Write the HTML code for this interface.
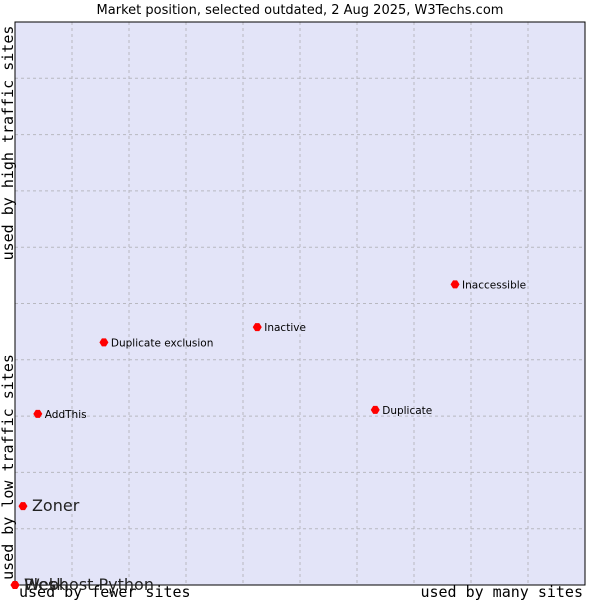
<!DOCTYPE html>
<html><head><meta charset="utf-8"><style>
body{margin:0;background:#fff;width:600px;height:600px;overflow:hidden}
svg{display:block}
text{font-family:"DejaVu Sans","Liberation Sans",sans-serif}
.ax{font-family:"DejaVu Sans Mono","Liberation Mono",monospace;font-size:15px;fill:#000}
</style></head><body>
<svg id="chart" width="600" height="600">
<text x="300" y="14" text-anchor="middle" font-size="13">Market position, selected outdated, 2 Aug 2025, W3Techs.com</text>
<rect x="15" y="22" width="570" height="563" fill="#e3e4f8"/>
<g id="grid"></g>
<rect x="15" y="22" width="570" height="563" fill="none" stroke="#000" stroke-width="1"/>
<text class="ax" transform="translate(13,143) rotate(-90)" text-anchor="middle">used by high traffic sites</text>
<text class="ax" transform="translate(13,467) rotate(-90)" text-anchor="middle">used by low traffic sites</text>
<text class="ax" x="19" y="597">used by fewer sites</text>
<text class="ax" x="583" y="597" text-anchor="end">used by many sites</text>
<g id="points"></g>
</svg>
<script>
const names=["Plesk","Webhost Python","Zoner","AddThis","Duplicate exclusion","Inactive","Duplicate","Inaccessible"];
const xValues=[0,0,1.4,4.0,15.6,42.5,63.2,77.2];
const yValues=[0,0,14.0,30.4,43.1,45.8,31.1,53.4];
const labelSizes=[16,16,16,10.5,10.5,10.5,10.5,10.5];
const NS="http://www.w3.org/2000/svg";
const L=15,T=22,W=570,H=563;
const xs=v=>L+v/100*W, ys=v=>T+H-v/100*H;
const grid=document.getElementById('grid');
for(let i=1;i<10;i++){
 const x=L+i*W/10, y=T+i*H/10;
 const a=document.createElementNS(NS,'line');
 
 
 a.setAttribute('x1',x);a.setAttribute('x2',x);a.setAttribute('y1',T);a.setAttribute('y2',T+H);
 a.setAttribute('stroke','#b8b8c0');a.setAttribute('stroke-dasharray','3,3');grid.appendChild(a);
 const b=document.createElementNS(NS,'line');
 
 
 b.setAttribute('y1',y);b.setAttribute('y2',y);b.setAttribute('x1',L);b.setAttribute('x2',L+W);
 b.setAttribute('stroke','#b8b8c0');b.setAttribute('stroke-dasharray','3,3');grid.appendChild(b);
}
const pts=document.getElementById('points');
names.forEach((n,i)=>{
 const x=xs(xValues[i]),y=ys(yValues[i]);
 const g=document.createElementNS(NS,'g');
 
 
 const c=document.createElementNS(NS,'path');
 c.setAttribute('d',`M${x-4.5},${y} L${x-2},${y-4} L${x+2},${y-4} L${x+4.5},${y} L${x+2},${y+4} L${x-2},${y+4}Z`);
 c.setAttribute('fill','#ff0000');
 g.appendChild(c);
 const t=document.createElementNS(NS,'text');
 
 
 const big=labelSizes[i]>12;
 t.setAttribute('x',x+(big?9:7));t.setAttribute('y',y+(big?5:4));
 t.setAttribute('font-size',labelSizes[i]);
 t.setAttribute('fill',big?'#222':'#000');
 t.textContent=n;g.appendChild(t);
 pts.appendChild(g);
});
</script>
</body></html>
